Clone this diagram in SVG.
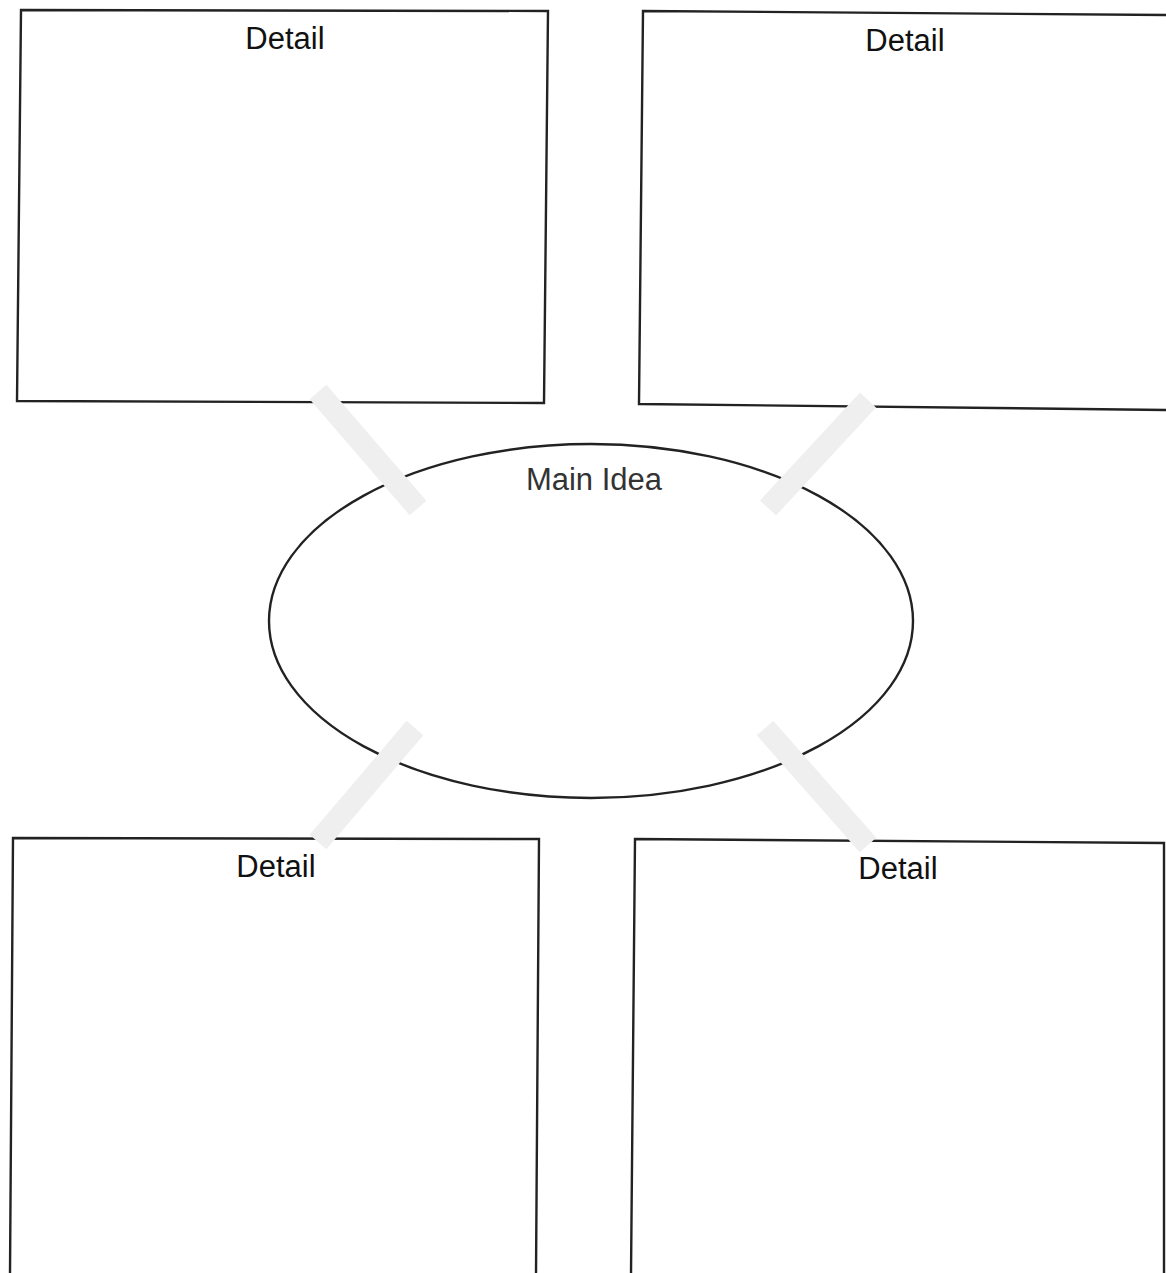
<svg xmlns="http://www.w3.org/2000/svg" width="1166" height="1273" viewBox="0 0 1166 1273">
<style>
.box{fill:#ffffff;stroke:#222;stroke-width:2.4}
.lbl{font-family:"Liberation Sans",Arial,sans-serif;font-size:31px;fill:#111;text-anchor:middle}
.conn{stroke:#efefef;stroke-width:22;stroke-linecap:butt;fill:none}
</style>
<rect width="1166" height="1273" fill="#ffffff"/>
<g id="detail-tl">
<polygon class="box" points="21,10 548,11 544,403 17,401"/>
<text class="lbl" x="285" y="49">Detail</text>
</g>
<g id="detail-tr">
<polygon class="box" points="643,11 1168,15 1168,410 639,404"/>
<text class="lbl" x="905" y="51">Detail</text>
</g>
<g id="main-idea">
<ellipse cx="591" cy="621" rx="322" ry="177" fill="none" stroke="#222" stroke-width="2.4"/>
<text class="lbl" x="594" y="490" style="fill:#333">Main Idea</text>
</g>
<g id="detail-bl">
<polygon class="box" points="13,838 539,839 536,1275 10,1275"/>
<text class="lbl" x="276" y="877">Detail</text>
</g>
<g id="detail-br">
<polygon class="box" points="635,839 1164,843 1164,1275 631,1275"/>
<text class="lbl" x="898" y="879">Detail</text>
</g>
<g id="connectors">
<line class="conn" x1="318" y1="392" x2="418" y2="508"/>
<line class="conn" x1="868" y1="400" x2="768" y2="508"/>
<line class="conn" x1="318" y1="842" x2="415" y2="728"/>
<line class="conn" x1="765" y1="728" x2="868" y2="845"/>
</g>
</svg>
